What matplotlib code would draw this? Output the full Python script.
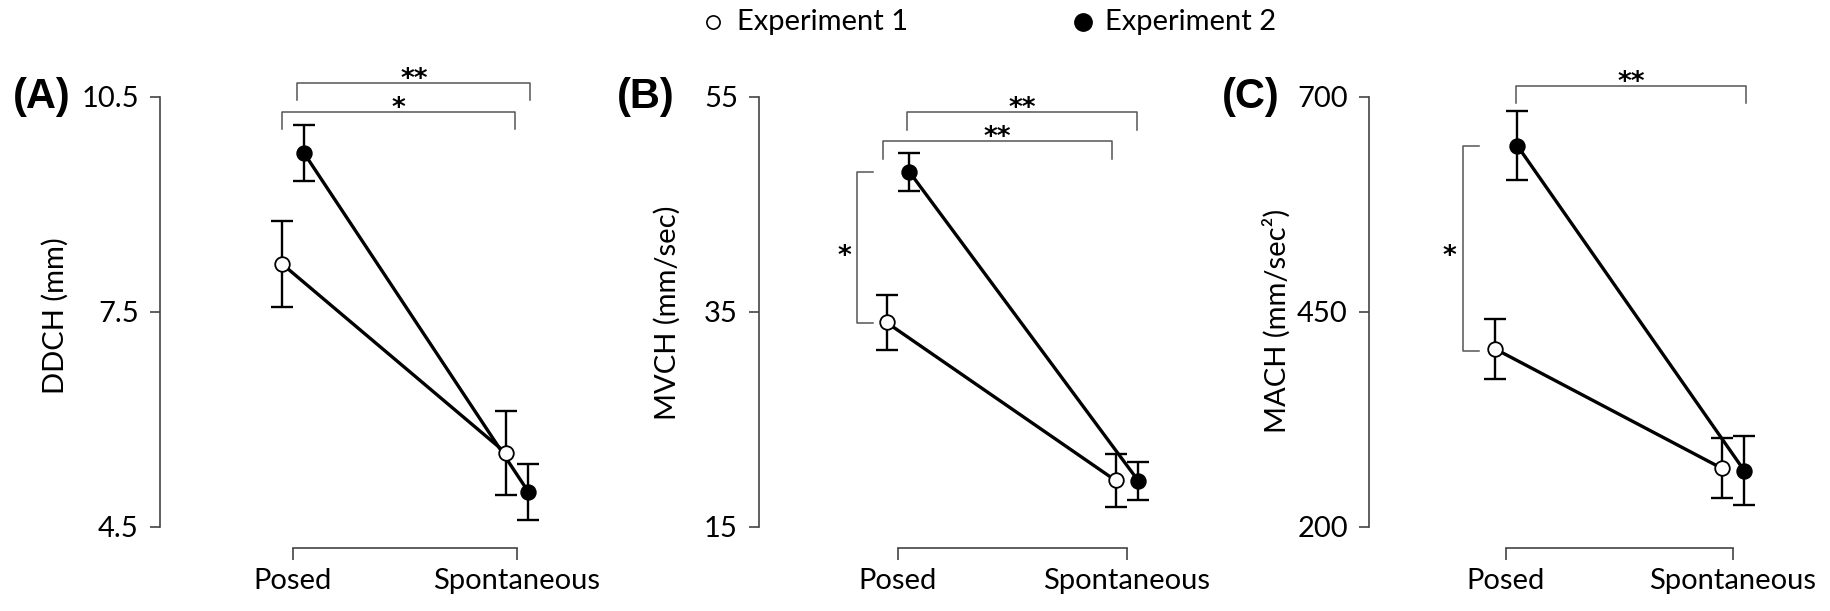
import numpy as np
import matplotlib
matplotlib.use("Agg")
import matplotlib.pyplot as plt
from matplotlib.lines import Line2D

plt.rcParams['font.family'] = ['Lato', 'DejaVu Sans']

# ---------------- data ----------------
categories = ['Posed', 'Spontaneous']

ddch_exp1 = [8.17, 5.53]
ddch_exp1_err = [0.60, 0.59]
ddch_exp2 = [9.71, 4.99]
ddch_exp2_err = [0.39, 0.39]

mvch_exp1 = [34.0, 19.3]
mvch_exp1_err = [2.53, 2.50]
mvch_exp2 = [48.0, 19.25]
mvch_exp2_err = [1.80, 1.80]

mach_exp1 = [407.0, 268.0]
mach_exp1_err = [35.0, 35.0]
mach_exp2 = [643.0, 265.0]
mach_exp2_err = [40.0, 40.0]

ddch_ticks = [4.5, 7.5, 10.5]
mvch_ticks = [15, 35, 55]
mach_ticks = [200, 450, 700]
ddch_ticklabels = ['4.5', '7.5', '10.5']
mvch_ticklabels = ['15', '35', '55']
mach_ticklabels = ['200', '450', '700']

legend_labels = ['Experiment 1', 'Experiment 2']
panel_labels = ['(A)', '(B)', '(C)']
ylabels = ['DDCH (mm)', 'MVCH (mm/sec)', 'MACH (mm/sec\u00b2)']

# significance annotations: (x0, x1, y, y_tick_end, text)
sig_h_A = [(0.02, 1.06, 10.69, 10.454, '**'), (-0.05, 0.99, 10.286, 10.05, '*')]
sig_h_B = [(0.04, 1.044, 53.58, 51.9, '**'), (-0.066, 0.934, 50.88, 49.2, '**')]
sig_h_C = [(0.044, 1.057, 712.4, 692.7, '**')]
# vertical: (x, x_tick_end, y0, y1, text_x, text_y, text)
sig_v_A = []
sig_v_B = [(-0.18, -0.11, 48.0, 33.95, -0.236, 40.9, '*')]
sig_v_C = [(-0.19, -0.12, 642.7, 404.3, -0.25, 523.0, '*')]

# ---------------- layout ----------------
W_PX, H_PX = 1831, 611
fig = plt.figure(figsize=(W_PX / 100, H_PX / 100), dpi=100)

def fx(px):
    return px / W_PX

def fy(py):
    return 1 - py / H_PX

top_px, bot_px = 96.7, 526.7
panel_layout = [
    dict(left=160, c0=293, c1=517, lab_x=13, ylab_x=55, ylab_y=316),
    dict(left=759, c0=898, c1=1127, lab_x=617, ylab_x=667, ylab_y=313),
    dict(left=1369, c0=1506, c1=1733, lab_x=1222, ylab_x=1277, ylab_y=321),
]

series = [
    (ddch_exp1, ddch_exp1_err, ddch_exp2, ddch_exp2_err, ddch_ticks, ddch_ticklabels, sig_h_A, sig_v_A),
    (mvch_exp1, mvch_exp1_err, mvch_exp2, mvch_exp2_err, mvch_ticks, mvch_ticklabels, sig_h_B, sig_v_B),
    (mach_exp1, mach_exp1_err, mach_exp2, mach_exp2_err, mach_ticks, mach_ticklabels, sig_h_C, sig_v_C),
]

spine_col = '#444444'
sig_col = '#555555'
FS = 21
STAR = dict(fontsize=19, fontweight='bold', family='DejaVu Sans')
offset = 0.05
xpos = np.arange(len(categories))

for i, (lay, ser) in enumerate(zip(panel_layout, series)):
    e1, e1err, e2, e2err, ticks, ticklabels, sig_h, sig_v = ser
    upp = lay['c1'] - lay['c0']
    x0 = -(lay['c0'] - lay['left']) / upp
    x1 = 1.25
    width_px = (x1 - x0) * upp
    ax = fig.add_axes([fx(lay['left']), fy(bot_px), width_px / W_PX, (bot_px - top_px) / H_PX])
    ax.set_xlim(x0, x1)
    ax.set_ylim(ticks[0], ticks[-1])
    ax.patch.set_alpha(0)

    for vals, errs, dx, face in [(e1, e1err, -offset, 'white'), (e2, e2err, offset, 'black')]:
        xs = xpos + dx
        ax.errorbar(xs, vals, yerr=errs, fmt='none', ecolor='black', elinewidth=1.7,
                    capsize=7.8, capthick=1.7, zorder=2, clip_on=False)
        ax.plot(xs, vals, color='black', lw=2.4, zorder=3, clip_on=False)
        ax.plot(xs, vals, 'o', mfc=face, mec='black', ms=10.5, mew=1.3, zorder=4, clip_on=False)

    # spines R-style
    for s in ['top', 'right']:
        ax.spines[s].set_visible(False)
    ax.spines['left'].set_bounds(ticks[0], ticks[-1])
    ax.spines['bottom'].set_bounds(0, 1)
    ax.spines['bottom'].set_position(('outward', 15.3))
    for s in ['left', 'bottom']:
        ax.spines[s].set_color(spine_col)
        ax.spines[s].set_linewidth(1.2)
    ax.set_yticks(ticks)
    ax.set_yticklabels(ticklabels)
    ax.set_xticks(xpos)
    ax.set_xticklabels(categories)
    ax.tick_params(axis='y', direction='out', length=7.2, width=1.2, color=spine_col, pad=8, labelsize=FS)
    ax.tick_params(axis='x', direction='out', length=8.4, width=1.2, color=spine_col, pad=6, labelsize=FS)

    ax.set_ylabel(ylabels[i], fontsize=FS)
    ax.yaxis.label.set_va('center')
    ax.yaxis.set_label_coords((lay['ylab_x'] - lay['left']) / width_px,
                              (bot_px - lay['ylab_y']) / (bot_px - top_px))

    # significance brackets
    for (a, b, y, yt, txt) in sig_h:
        ax.plot([a, a, b, b], [yt, y, y, yt], color=sig_col, lw=1.1, clip_on=False, zorder=1)
        ax.annotate(txt, xy=((a + b) / 2, y), xytext=(0, -3.0), textcoords='offset points',
                    ha='center', va='baseline', annotation_clip=False, **STAR)
    for (xv, xt, y0, y1, tx, ty, txt) in sig_v:
        ax.plot([xt, xv, xv, xt], [y0, y0, y1, y1], color=sig_col, lw=1.1, clip_on=False, zorder=1)
        ax.annotate(txt, xy=(tx, ty), xytext=(0, -11), textcoords='offset points',
                    ha='center', va='baseline', annotation_clip=False, **STAR)

    fig.text(fx(lay['lab_x']), fy(top_px), panel_labels[i], fontsize=30, fontweight='bold',
             family='Liberation Sans', ha='left', va='center')

# legend (figure level)
leg_y = fy(22)
fig.add_artist(Line2D([fx(713)], [leg_y], marker='o', ms=9.5, mfc='white', mec='black', mew=1.2,
                      transform=fig.transFigure))
fig.text(fx(737), leg_y, legend_labels[0], fontsize=21, ha='left', va='center')
fig.add_artist(Line2D([fx(1083)], [leg_y], marker='o', ms=12.5, mfc='black', mec='black', mew=1.0,
                      transform=fig.transFigure))
fig.text(fx(1105), leg_y, legend_labels[1], fontsize=21, ha='left', va='center')

fig.savefig('out.png', dpi=100, facecolor='white')
